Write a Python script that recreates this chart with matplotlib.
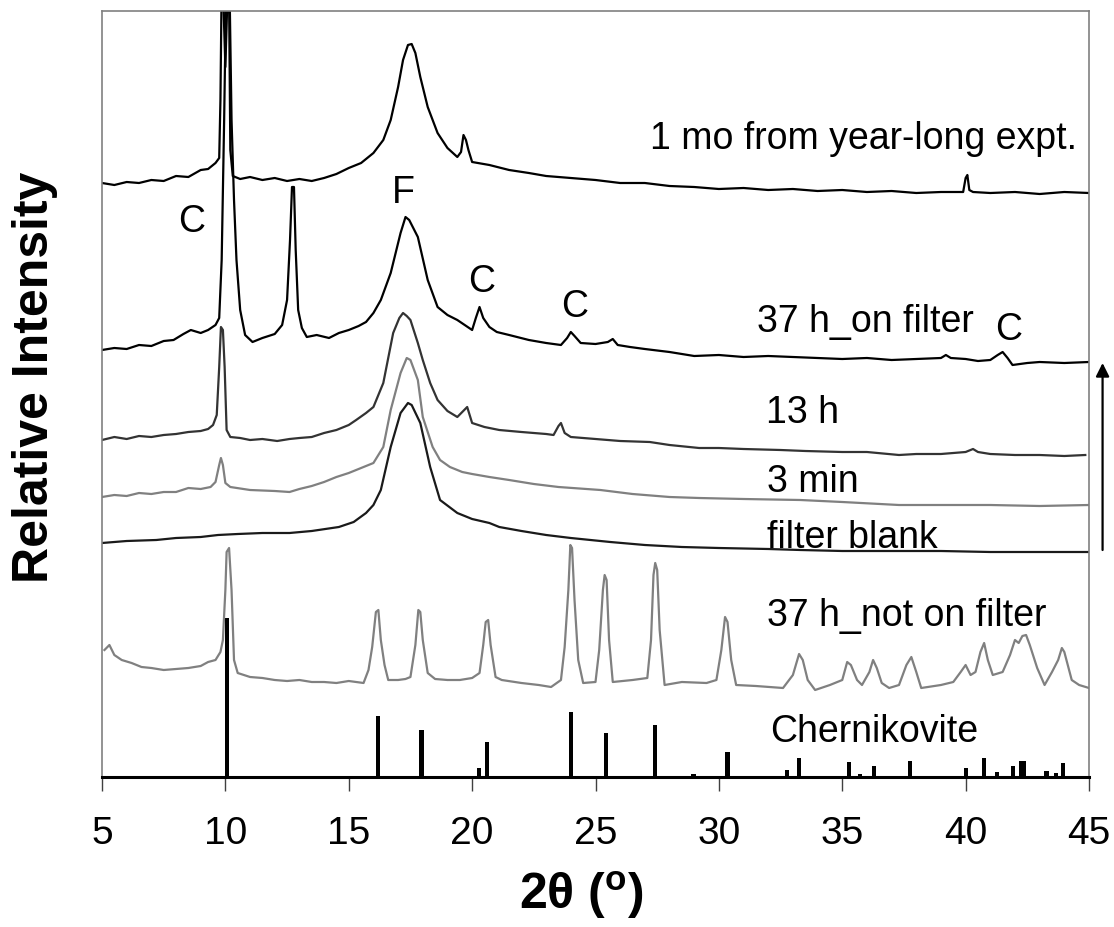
import matplotlib
matplotlib.use("Agg")
import matplotlib.pyplot as plt

plt.rcParams['font.family'] = ['Liberation Sans', 'DejaVu Sans']
plt.rcParams['mathtext.fontset'] = 'custom'
plt.rcParams['mathtext.rm'] = 'Liberation Sans'
plt.rcParams['mathtext.bf'] = 'Liberation Sans:bold'
plt.rcParams['xtick.major.pad'] = 18
plt.rcParams['xtick.major.size'] = 10

# ---------------- data (2theta in degrees, intensity in arbitrary stacked units) ----------------
mo1_x = [5.0, 5.5, 6.0, 6.5, 7.0, 7.5, 8.0, 8.5, 9.0, 9.3, 9.6, 9.75, 9.8, 9.87, 9.95, 10.0, 10.06,
         10.13, 10.2, 10.3, 10.6, 11.0, 11.5, 12.0, 12.5, 13.0, 13.5, 14.0, 14.5, 15.0, 15.5, 16.0,
         16.4, 16.7, 17.0, 17.2, 17.4, 17.55, 17.7, 17.9, 18.2, 18.6, 19.0, 19.4, 19.55, 19.65,
         19.75, 19.85, 20.0, 20.7, 21.5, 22.3, 23.0, 24.0, 25.0, 26.0, 27.0, 28.0, 29.0, 30.0,
         31.0, 32.0, 33.0, 34.0, 35.0, 36.0, 37.0, 38.0, 39.0, 39.9, 40.0, 40.07, 40.15, 40.3,
         41.0, 42.0, 43.0, 44.0, 45.0]
mo1_y = [594, 592, 595, 594, 597, 596, 601, 600, 607, 608, 614, 619, 677, 840, 750, 710, 760,
         840, 627, 601, 598, 600, 597, 599, 596, 598, 596, 599, 603, 609, 614, 624,
         637, 657, 690, 717, 732, 733, 724, 700, 670, 644, 629, 620, 625, 642,
         637, 627, 615, 612, 607, 604, 601, 599, 597, 594, 594, 591, 590, 588,
         589, 587, 588, 586, 587, 585, 586, 584, 585, 585, 599, 602, 587, 585,
         584, 585, 583, 585, 584]

on37_x = [5.0, 5.5, 6.0, 6.5, 7.0, 7.5, 7.9, 8.3, 8.6, 9.0, 9.3, 9.6, 9.75, 9.85, 9.95, 10.05,
          10.15, 10.25, 10.35, 10.45, 10.6, 10.8, 11.1, 11.5, 12.0, 12.3, 12.5, 12.62, 12.7,
          12.78, 12.85, 12.95, 13.1, 13.3, 13.7, 14.2, 14.6, 15.0, 15.4, 15.7, 16.0, 16.3, 16.7,
          17.1, 17.3, 17.45, 17.8, 18.2, 18.6, 19.0, 19.4, 19.7, 20.0, 20.15, 20.3, 20.45, 20.7,
          21.0, 21.5, 22.3, 23.0, 23.6, 23.85, 24.0, 24.15, 24.4, 25.0, 25.5, 25.7, 25.9, 26.4,
          27.0, 28.0, 29.0, 30.0, 31.0, 32.0, 33.0, 34.0, 35.0, 36.0, 37.0, 38.0, 39.0, 39.2,
          39.4, 40.0, 40.5, 41.0, 41.3, 41.5, 41.7, 41.9, 42.5, 43.0, 44.0, 45.0]
on37_y = [427, 429, 428, 432, 431, 436, 437, 443, 447, 444, 447, 452, 459, 517, 657, 820,
          820, 657, 577, 517, 467, 442, 435, 439, 443, 452, 477, 537, 590,
          590, 527, 467, 449, 440, 442, 439, 444, 447, 451, 455, 464, 477, 504,
          544, 560, 557, 540, 497, 470, 462, 457, 452, 447, 459, 470, 459, 450,
          445, 442, 437, 434, 432, 439, 445, 441, 434, 433, 435, 438, 432, 430,
          428, 425, 421, 422, 420, 421, 420, 419, 418, 419, 417, 418, 419, 422,
          419, 418, 416, 417, 422, 425, 419, 412, 414, 415, 414, 415]

h13_x = [5.0, 5.5, 6.0, 6.5, 7.0, 7.5, 8.0, 8.5, 9.0, 9.3, 9.5, 9.65, 9.75, 9.82, 9.9, 9.97,
         10.05, 10.2, 10.6, 11.0, 11.5, 12.1, 12.6, 13.0, 13.5, 14.0, 14.5, 15.0, 15.3, 15.7,
         16.0, 16.4, 16.8, 17.05, 17.2, 17.35, 17.5, 17.8, 18.0, 18.3, 18.6, 19.0, 19.4, 19.6,
         19.8, 20.0, 20.5, 21.1, 22.0, 23.0, 23.3, 23.5, 23.6, 23.75, 24.0, 25.0, 26.0, 27.2,
         28.0, 29.2, 30.0, 31.0, 32.5, 33.5, 35.0, 36.0, 37.3, 38.0, 39.0, 40.0, 40.3, 40.5,
         41.0, 42.0, 43.0, 44.0, 44.85]
h13_y = [337, 340, 338, 341, 340, 342, 343, 345, 346, 348, 352, 362, 410, 450, 447, 410,
         347, 340, 339, 337, 338, 336, 338, 339, 340, 344, 347, 352, 357, 364,
         370, 394, 444, 459, 464, 461, 457, 434, 417, 394, 377, 366, 360, 365,
         370, 354, 350, 347, 345, 343, 342, 351, 354, 344, 340, 338, 336, 335,
         332, 329, 329, 328, 327, 326, 325, 325, 322, 323, 323, 325, 328, 325,
         323, 322, 322, 321, 322]

m3_x = [5.0, 5.5, 6.0, 6.5, 7.0, 7.5, 8.0, 8.5, 9.0, 9.4, 9.6, 9.75, 9.82, 9.9, 10.0, 10.2,
        11.0, 12.0, 12.6, 13.0, 13.5, 14.0, 14.5, 15.0, 15.3, 16.0, 16.4, 16.7, 17.1, 17.35,
        17.5, 17.8, 18.0, 18.4, 18.7, 19.1, 19.6, 20.0, 20.7, 21.5, 22.5, 23.5, 25.2, 26.5,
        28.0, 29.2, 31.0, 33.3, 35.0, 37.3, 39.0, 41.0, 43.0, 45.0]
m3_y = [280, 282, 281, 284, 283, 285, 285, 289, 288, 290, 295, 312, 319, 312, 294, 290,
        287, 286, 285, 288, 291, 295, 300, 304, 307, 314, 330, 367, 404, 419,
        417, 397, 360, 330, 317, 310, 305, 303, 300, 297, 293, 290, 287, 283,
        280, 279, 278, 277, 275, 272, 272, 272, 271, 272]

fb_x = [5.0, 6.0, 7.2, 8.0, 9.0, 9.7, 10.5, 11.5, 12.6, 13.5, 14.6, 15.2, 15.7, 16.0, 16.3,
        16.7, 17.1, 17.4, 17.55, 17.9, 18.3, 18.7, 19.4, 20.0, 20.7, 21.1, 22.0, 23.0, 24.0,
        25.6, 27.0, 28.5, 30.0, 32.0, 33.3, 35.0, 37.0, 39.0, 41.0, 43.0, 45.0]
fb_y = [234, 236, 237, 239, 240, 242, 243, 244, 244, 246, 250, 255, 264, 272, 287,
        330, 364, 374, 372, 354, 310, 277, 264, 258, 254, 250, 246, 242, 239,
        235, 232, 230, 229, 228, 227, 226, 226, 226, 225, 225, 225]

nf37_x = [5.1, 5.3, 5.5, 5.8, 6.2, 6.6, 7.0, 7.5, 8.0, 8.5, 9.0, 9.3, 9.6, 9.8, 9.9, 10.0,
          10.05, 10.15, 10.25, 10.35, 10.5, 11.0, 11.5, 12.0, 12.5, 13.0, 13.5, 14.0, 14.5,
          15.0, 15.6, 15.8, 15.95, 16.1, 16.2, 16.3, 16.45, 16.6, 17.0, 17.3, 17.5, 17.7, 17.82,
          17.9, 18.0, 18.2, 18.5, 19.0, 19.5, 20.0, 20.3, 20.45, 20.55, 20.65, 20.75, 20.95,
          21.2, 22.0, 22.7, 23.2, 23.6, 23.75, 23.9, 23.98, 24.05, 24.15, 24.3, 24.5, 25.0,
          25.15, 25.3, 25.37, 25.45, 25.55, 25.7, 26.5, 27.1, 27.25, 27.35, 27.42, 27.5, 27.6,
          27.8, 28.5, 29.5, 29.9, 30.1, 30.25, 30.35, 30.5, 30.7, 31.5, 32.6, 33.0, 33.25,
          33.4, 33.6, 33.9, 34.5, 35.0, 35.2, 35.35, 35.6, 35.8, 36.1, 36.25, 36.4, 36.6, 36.9,
          37.3, 37.6, 37.8, 38.0, 38.2, 39.0, 39.5, 39.8, 40.0, 40.2, 40.4, 40.6, 40.75, 40.9,
          41.1, 41.5, 41.8, 42.0, 42.15, 42.3, 42.45, 42.6, 42.9, 43.2, 43.5, 43.75, 43.9, 44.0,
          44.3, 44.6, 45.0]
nf37_y = [127, 132, 122, 117, 114, 110, 109, 107, 108, 109, 111, 115, 117, 125, 137, 187,
          225, 229, 187, 117, 104, 100, 99, 97, 96, 97, 95, 95, 94,
          96, 94, 107, 130, 165, 167, 137, 112, 97, 97, 98, 100, 132, 167,
          165, 137, 104, 98, 97, 97, 99, 104, 132, 155, 157, 132, 100,
          97, 94, 92, 90, 97, 130, 187, 232, 229, 177, 117, 94, 95,
          127, 187, 202, 197, 137, 95, 97, 99, 137, 202, 214, 207, 147,
          92, 95, 94, 97, 127, 160, 155, 117, 92, 91, 89, 102, 123,
          117, 97, 87, 92, 97, 115, 112, 97, 92, 105, 117, 109, 94, 89,
          92, 112, 120, 105, 89, 92, 95, 105, 112, 102, 105, 125, 134, 117,
          102, 105, 122, 137, 134, 141, 142, 132, 109, 92, 105, 117, 129, 125,
          97, 92, 89]

chern_x = [10.05, 16.2, 17.95, 20.28, 20.6, 24.0, 25.44, 27.4, 28.97, 30.35, 32.77, 33.25,
           35.27, 35.72, 36.3, 37.75, 40.0, 40.75, 41.26, 41.92, 42.23, 42.37, 43.28, 43.66, 43.95]
chern_h = [159, 61, 47, 9, 35, 65, 44, 52, 3, 25, 7, 19,
           15, 3, 11, 16, 9, 19, 5, 11, 16, 16, 6, 4, 14]

x_ticks = [5, 10, 15, 20, 25, 30, 35, 40, 45]

# ---------------- figure ----------------
fig = plt.figure(figsize=(11.14, 9.27), dpi=100)
ax = fig.add_axes([102/1114, 150/927, 987/1114, 766/927])

lw = 1.6
ax.plot(mo1_x, mo1_y, color='#000000', lw=lw)
ax.plot(on37_x, on37_y, color='#000000', lw=lw)
ax.plot(h13_x, h13_y, color='#333333', lw=lw)
ax.plot(m3_x, m3_y, color='#808080', lw=lw)
ax.plot(fb_x, fb_y, color='#1a1a1a', lw=lw)
ax.plot(nf37_x, nf37_y, color='#808080', lw=lw)
ax.bar(chern_x, chern_h, width=0.17, color='black', bottom=0)

ax.set_xlim(5, 45)
ax.set_ylim(0, 766)
ax.set_xticks(x_ticks)
ax.set_yticks([])
ax.tick_params(axis='x', direction='out', length=10, width=1, color='#404040',
               labelsize=28, pad=18)

for s in ['left', 'top', 'right']:
    ax.spines[s].set_color('#808080')
    ax.spines[s].set_linewidth(1.2)
ax.spines['bottom'].set_color('black')
ax.spines['bottom'].set_linewidth(2.2)

ax.set_xlabel('2θ ($\\mathregular{^o}$)', fontsize=36, fontweight='bold', labelpad=16)
ax.xaxis.set_label_coords((581 - 102) / 987, -(895 - 777) / 766)
ax.xaxis.label.set_va('center')
ax.set_ylabel('Relative Intensity', fontsize=36, fontweight='bold', va='center')
ax.yaxis.set_label_coords(-(102 - 35) / 987, (777 - 377) / 766)

fs = 27
ax.text(44.5, 628, '1 mo from year-long expt.', fontsize=fs, ha='right', va='baseline')
ax.text(8.65, 545, 'C', fontsize=fs, ha='center', va='baseline')
ax.text(17.22, 574, 'F', fontsize=fs, ha='center', va='baseline')
ax.text(20.39, 485, 'C', fontsize=fs, ha='center', va='baseline')
ax.text(24.17, 460, 'C', fontsize=fs, ha='center', va='baseline')
ax.text(31.55, 445, '37 h_on filter', fontsize=fs, ha='left', va='baseline')
ax.text(41.73, 437, 'C', fontsize=fs, ha='center', va='baseline')
ax.text(31.9, 354, '13 h', fontsize=fs, ha='left', va='baseline')
ax.text(31.95, 285, '3 min', fontsize=fs, ha='left', va='baseline')
ax.text(31.95, 229, 'filter blank', fontsize=fs, ha='left', va='baseline')
ax.text(31.95, 151, '37 h_not on filter', fontsize=fs, ha='left', va='baseline')
ax.text(32.07, 35, 'Chernikovite', fontsize=fs, ha='left', va='baseline')

ax.annotate('', xy=(45.55, 414), xytext=(45.55, 227),
            arrowprops=dict(arrowstyle='-|>', color='black', lw=1.6, mutation_scale=20,
                            shrinkA=0, shrinkB=0),
            annotation_clip=False)

fig.savefig('out.png', dpi=100)
